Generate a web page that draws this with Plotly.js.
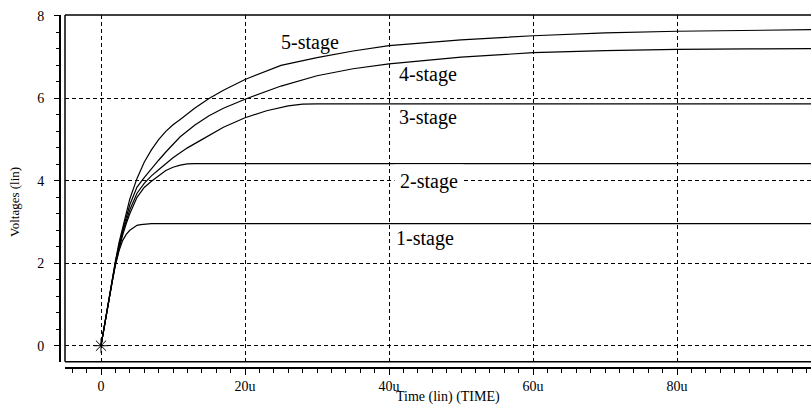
<!DOCTYPE html>
<html>
<head>
<meta charset="utf-8">
<script src="https://cdn.plot.ly/plotly-3.0.1.min.js"></script>
<style>html,body{margin:0;padding:0;background:#fff;}#chart{width:811px;height:408px;}</style>
</head>
<body>
<div id="chart"></div>
<script>
// time in microseconds (u)
const t1 = [0,0.5,1,1.5,2,2.5,3,3.5,4,4.5,5,5.5,6,7,10,20,40,60,80,100];
const v1 = [0,0.53,1.03,1.5,1.95,2.3,2.55,2.7,2.8,2.87,2.92,2.94,2.95,2.96,2.96,2.96,2.96,2.96,2.96,2.96];

const t2 = [0,0.5,1,1.5,2,2.5,3,3.5,4,5,6,7,8,9,10,11,12,13,15,20,40,60,80,100];
const v2 = [0,0.53,1.03,1.5,1.98,2.36,2.68,2.96,3.2,3.6,3.84,3.99,4.13,4.25,4.33,4.38,4.41,4.42,4.42,4.42,4.42,4.42,4.42,4.42];

const t3 = [0,0.5,1,1.5,2,2.5,3,4,5,6,7,8,9,10,11,12,14,17,20,23,26,28,30,40,60,80,100];
const v3 = [0,0.53,1.03,1.51,2.0,2.4,2.75,3.3,3.7,3.94,4.12,4.27,4.42,4.56,4.68,4.8,5.0,5.3,5.53,5.7,5.82,5.86,5.87,5.87,5.87,5.87,5.87];

const t4 = [0,0.5,1,1.5,2,2.5,3,4,5,6,7,8,9,10,11,13,15,17,20,25,30,35,40,50,60,70,80,90,100];
const v4 = [0,0.53,1.03,1.52,2.03,2.44,2.8,3.42,3.85,4.08,4.3,4.5,4.7,4.89,5.07,5.35,5.58,5.76,5.98,6.3,6.55,6.72,6.84,7.0,7.11,7.16,7.19,7.2,7.21];

const t5 = [0,0.5,1,1.5,2,2.5,3,4,5,6,7,8,9,10,11,13,15,17,20,25,30,35,40,50,60,70,80,90,100];
const v5 = [0,0.54,1.04,1.54,2.05,2.5,2.88,3.56,4.06,4.45,4.75,5.0,5.2,5.36,5.49,5.76,6.0,6.2,6.46,6.8,6.99,7.15,7.28,7.42,7.52,7.59,7.63,7.66,7.67];

const xTickVals = [0,20,40,60,80];
const xTickText = ['0','20u','40u','60u','80u'];
const yTickVals = [0,2,4,6,8];
const yTickText = ['0','2','4','6','8'];

const stageNames = ['1-stage','2-stage','3-stage','4-stage','5-stage'];
const labelT = [45.0, 45.6, 45.4, 45.35, 29.0];
const labelV = [2.61, 3.98, 5.53, 6.57, 7.35];

const FONT = '"Liberation Serif", "Times New Roman", Times, serif';
const series = [[t1,v1],[t2,v2],[t3,v3],[t4,v4],[t5,v5]];
const traces = series.map((s,i) => ({
  x: s[0], y: s[1], type: 'scatter', mode: 'lines', name: stageNames[i],
  line: {color: '#000', width: 1.2}, hoverinfo: 'skip'
}));
traces.push({
  x: [t5[0]], y: [v5[0]], type: 'scatter', mode: 'markers',
  marker: {symbol: 'asterisk-open', size: 12, line: {color: '#000', width: 1}, color: '#000'},
  hoverinfo: 'skip'
});

const annotations = stageNames.map((n,i) => ({
  x: labelT[i], y: labelV[i], xref: 'x', yref: 'y', text: n, showarrow: false,
  font: {family: FONT, size: 20, color: '#000'},
  bgcolor: i === 1 ? '#fff' : 'rgba(0,0,0,0)', borderpad: i === 1 ? 5 : 0,
  xanchor: 'center', yanchor: 'middle'
}));
annotations.push({
  x: 448, y: 397, xref: 'paper', yref: 'paper', text: 'Time (lin) (TIME)', showarrow: false,
  font: {family: FONT, size: 14, color: '#000'}, xanchor: 'center', yanchor: 'middle'
});
annotations.push({
  x: 14, y: 202, xref: 'paper', yref: 'paper', text: 'Voltages (lin)', showarrow: false,
  textangle: -90, font: {family: FONT, size: 13, color: '#000'}, xanchor: 'center', yanchor: 'middle'
});
// convert pixel annotations to paper coords
const W = 811, H = 408, ML = 60, MR = 0, MT = 15, MB = 41;
annotations.forEach(a => {
  if (a.xref === 'paper') {
    a.x = (a.x - ML) / (W - ML - MR);
    a.y = 1 - (a.y - MT) / (H - MT - MB);
  }
});

const layout = {
  width: W, height: H,
  margin: {l: ML, r: MR, t: MT, b: MB, pad: 0},
  paper_bgcolor: '#fff', plot_bgcolor: '#fff',
  showlegend: false,
  font: {family: FONT, color: '#000'},
  xaxis: {
    domain: [5/751, 1], anchor: 'free', position: 0,
    range: [-5.0, 98.6], zeroline: false,
    showline: true, linecolor: '#000', linewidth: 1.5,
    tickmode: 'array', tickvals: xTickVals, ticktext: xTickText,
    ticks: 'outside', ticklen: 6, tickwidth: 1, tickcolor: '#000',
    tickfont: {family: FONT, size: 14, color: '#000'},
    showgrid: true, gridcolor: '#000', gridwidth: 1, griddash: '4px,3px',
    minor: {tickmode: 'linear', tick0: 0, dtick: 2, ticks: 'outside', ticklen: 4, tickwidth: 1, tickcolor: '#000', showgrid: false}
  },
  yaxis: {
    domain: [5.3/352, 1], anchor: 'free', position: 0,
    range: [-0.388, 8.024], zeroline: false,
    showline: true, linecolor: '#000', linewidth: 2,
    tickmode: 'array', tickvals: yTickVals, ticktext: yTickText,
    ticks: 'outside', ticklen: 5, tickwidth: 1, tickcolor: '#000',
    ticklabelstandoff: 7,
    tickfont: {family: FONT, size: 14, color: '#000'},
    showgrid: true, gridcolor: '#000', gridwidth: 1, griddash: '4px,3px',
    minor: {tickmode: 'linear', tick0: 0, dtick: 0.4, ticks: 'outside', ticklen: 3, tickwidth: 1, tickcolor: '#000', showgrid: false}
  },
  shapes: [
    {type: 'line', xref: 'x domain', yref: 'y domain', x0: 0, x1: 0, y0: 0, y1: 1, line: {color: '#000', width: 1.5}},
    {type: 'line', xref: 'x domain', yref: 'y domain', x0: 0, x1: 1, y0: 1, y1: 1, line: {color: '#000', width: 1.5}},
    {type: 'line', xref: 'x domain', yref: 'y domain', x0: 0, x1: 1, y0: 0, y1: 0, line: {color: '#000', width: 1.5}}
  ],
  annotations: annotations
};

Plotly.newPlot('chart', traces, layout, {staticPlot: true, displayModeBar: false});
</script>
</body>
</html>
